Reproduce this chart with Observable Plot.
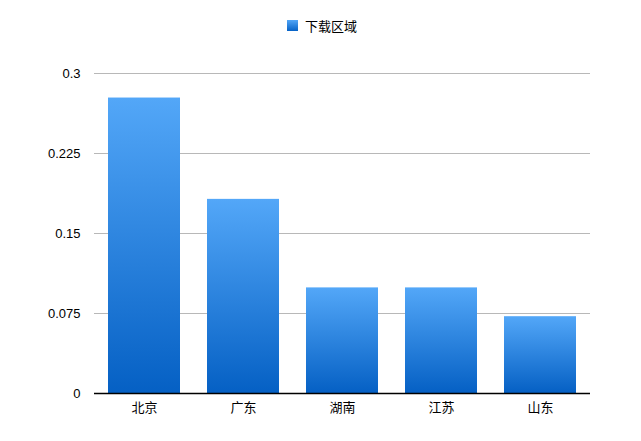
<!DOCTYPE html>
<html>
<head>
<meta charset="utf-8">
<script src="https://cdn.jsdelivr.net/npm/d3@7"></script>
<script src="https://cdn.jsdelivr.net/npm/@observablehq/plot@0.6"></script>
<style>
  html, body { margin: 0; padding: 0; background: #fff; }
  body { width: 641px; height: 441px; overflow: hidden; font-family: "Liberation Sans", "Noto Sans CJK SC", sans-serif; }
  #legend { height: 50px; position: relative; }
  #legend .sw { position: absolute; left: 287px; top: 20px; width: 11px; height: 11px; background: linear-gradient(#52a6f7, #0662c6); }
  #legend .lb { position: absolute; left: 305px; top: 17px; font-size: 13px; line-height: 17px; color: #000; font-family: "Noto Sans CJK SC", sans-serif; }
</style>
</head>
<body>
<div id="legend"><span class="sw"></span><span class="lb">下载区域</span></div>
<div id="chart"></div>
<script>
const regions = ["北京", "广东", "湖南", "江苏", "山东"];
const shares = [0.277, 0.182, 0.099, 0.099, 0.072];
const yTicks = [0, 0.075, 0.15, 0.225, 0.3];
const seriesName = "下载区域";

const data = regions.map((r, i) => ({region: r, value: shares[i]}));

const chart = Plot.plot({
  width: 641,
  height: 391,
  marginLeft: 94,
  marginRight: 51,
  marginTop: 23,
  marginBottom: 48,
  style: {fontFamily: "'Liberation Sans', 'Noto Sans CJK SC', sans-serif", fontSize: "13px", color: "#000", background: "#fff"},
  x: {domain: regions, paddingInner: 0.27, paddingOuter: 0.13, label: null, tickSize: 0, tickPadding: 9},
  y: {domain: [0, 0.3], ticks: yTicks, tickFormat: d => String(d), label: null, tickSize: 0, tickPadding: 14},
  marks: [
    () => {
      const svg = d3.create("svg:defs");
      const g = svg.append("linearGradient").attr("id", "barGrad").attr("x1", 0).attr("y1", 0).attr("x2", 0).attr("y2", 1);
      g.append("stop").attr("offset", "0%").attr("stop-color", "#53a7f8");
      g.append("stop").attr("offset", "100%").attr("stop-color", "#0560c4");
      return svg.node();
    },
    Plot.gridY(yTicks.filter(d => d > 0), {stroke: "#b8b8b8", strokeOpacity: 1, strokeWidth: 1}),
    Plot.barY(data, {x: "region", y: "value", fill: "url(#barGrad)"}),
    Plot.ruleY([0], {stroke: "#000", strokeWidth: 1.5})
  ]
});
document.getElementById("chart").appendChild(chart);
</script>
</body>
</html>
